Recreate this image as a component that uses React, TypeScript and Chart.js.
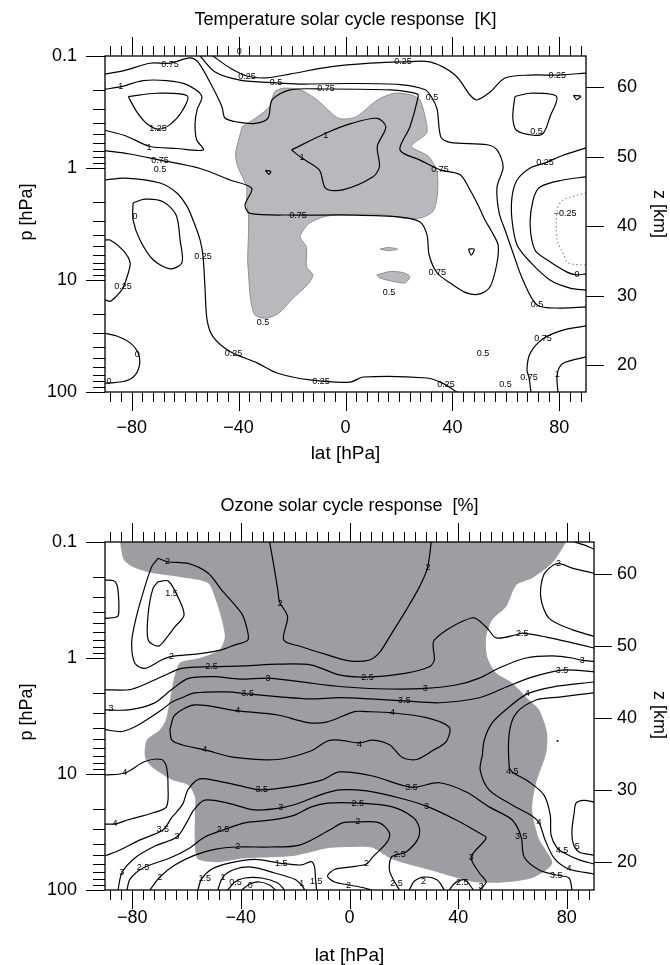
import React, { useEffect, useRef } from "react";
import { Chart, registerables } from "chart.js";

Chart.register(...registerables);

type P = [number, number];
type L = [number, number, string];

const FONT = '"Liberation Sans", Arial, Helvetica, sans-serif';

// ---------------- axes ----------------
const LAT_TICKS = [-80, -40, 0, 40, 80];
const P_TICKS = [0.1, 1, 10, 100];
const Z_TICKS = [20, 30, 40, 50, 60];
const LAT_MINOR_STEP = 4;
const SCALE_HEIGHT_KM = 7;
const P_SURFACE = 1000;

// ---------------- Temperature panel ----------------
const T_SHADE: P[] = [[-38.7,0.43],[-41.1,0.74],[-40.3,0.97],[-37.0,1.47],[-37.0,2.0],[-36.3,2.7],[-36.3,3.8],[-36.6,6.6],[-36.3,8.7],[-35.5,15],[-33.9,20.5],[-29.9,22],[-25.0,19.8],[-20.2,15],[-13.8,10.7],[-12.2,9.0],[-14.6,7.6],[-14.6,5.1],[-17.0,4.1],[-13.8,3.15],[-7.4,2.7],[2.3,2.6],[13.5,2.6],[21.5,2.8],[27.9,2.8],[32.7,2.45],[34.3,1.8],[34.3,1.1],[31.1,0.79],[24.7,0.64],[30.3,0.49],[30.3,0.4],[27.9,0.247],[24.7,0.223],[18.3,0.215],[11.9,0.247],[3.9,0.35],[-2.6,0.36],[-10.6,0.247],[-17.0,0.2],[-23.4,0.194],[-26.6,0.21],[-28.2,0.28],[-33.0,0.35],[-38.7,0.43]];
const T_BLOB_A: P[] = [[13,5.3],[16,5.12],[19.5,5.3],[16,5.48],[13,5.3]];
const T_BLOB_B: P[] = [[11.7,9.0],[16.7,8.4],[21.6,8.6],[24.1,9.3],[22.3,10.6],[17.9,10.3],[12.9,9.6],[11.7,9.0]];

const T_075: P[] = [[-90,0.70],[-80.6,0.75],[-69.4,0.85],[-54.4,1.01],[-43.2,1.28],[-35.1,1.52],[-37.6,2.14],[-35.7,2.54],[-19.5,2.63],[1.7,2.63],[20.4,2.74],[27.9,3.03],[30.5,3.96],[31.3,5.98],[34.3,8.66],[39.1,10.6],[45.5,13.1],[50.3,13.3],[54.1,11.5],[56.7,7.05],[57.1,4.87],[54.8,3.73],[52.2,2.91],[49.6,2.14],[46.6,1.57],[42.9,1.15],[35.4,1.04],[27.9,0.85],[20.4,0.69],[24.1,0.43],[27.1,0.237],[26.8,0.218],[16.7,0.201],[-7.7,0.197],[-20.8,0.201],[-27.5,0.247],[-29,0.358],[-33.9,0.40],[-40.2,0.39],[-45.1,0.358],[-46.2,0.285],[-49.6,0.193],[-55.2,0.113],[-58.2,0.104],[-65.7,0.116],[-73.2,0.116],[-83.3,0.136],[-90,0.145]];
const T_1U: P[] = [[-90,0.198],[-84.1,0.188],[-75.8,0.166],[-66.9,0.166],[-59.4,0.18],[-53.8,0.228],[-55.5,0.30],[-56.3,0.4],[-55.7,0.56],[-53.2,0.69],[-63.2,0.67],[-73.4,0.64],[-81.9,0.52],[-90,0.46]];
const T_1C: P[] = [[-20.2,0.69],[-7.4,0.49],[2.2,0.40],[11.9,0.36],[15.1,0.43],[11.9,0.64],[12.7,0.97],[10.3,1.2],[-1,1.57],[-7.4,1.52],[-9.8,1.04],[-16.2,0.82],[-20.2,0.69]];
const T_125: P[] = [[-81.3,0.23],[-70.7,0.215],[-59.2,0.227],[-61.3,0.315],[-65.7,0.41],[-70.1,0.45],[-74.4,0.40],[-78.1,0.315],[-81.3,0.23]];
const T_05: P[] = [[-54.4,0.1],[-48.8,0.139],[-39.5,0.164],[-26,0.174],[-17,0.178],[1.7,0.176],[20.4,0.18],[29.8,0.2],[32.4,0.237],[34.3,0.30],[35.7,0.53],[39.1,0.59],[53,0.62],[56.7,0.69],[59,0.98],[56.7,1.48],[57.5,2.52],[59.7,3.58],[62.7,5.74],[66.4,10],[71.7,16.7],[80.3,17.8],[90,17.4]];
const T_025U: P[] = [[-49.6,0.1],[-43.2,0.128],[-36.9,0.151],[-30.1,0.157],[-20.8,0.145],[-5.8,0.125],[9.2,0.116],[21.5,0.113],[31.6,0.113],[41,0.148],[46.6,0.223],[49.2,0.247],[54.1,0.21],[59.7,0.157],[69.1,0.148],[79.2,0.148],[90,0.142]];
const T_025L: P[] = [[-90,1.28],[-82.5,1.23],[-69.4,1.36],[-63.1,1.67],[-59.3,2.2],[-57.1,2.9],[-54.4,4.4],[-53.3,6.2],[-52.6,11.5],[-51.8,22.7],[-49.6,32],[-43.2,43.5],[-33.1,55],[-25.6,67.6],[-13.3,78],[1.7,81.7],[6.6,73.5],[30.5,75],[36.5,83.8],[41.7,100]];
const T_0LOOP: P[] = [[-79.5,2.05],[-75,1.9],[-68.3,2.0],[-63.4,2.63],[-61.9,4.4],[-61.2,7.0],[-65.7,7.95],[-72,6.6],[-76.9,4.4],[-79.5,2.9],[-79.5,2.05]];
const T_025LOOP: P[] = [[-90,4.4],[-88.1,4.4],[-83.3,5.4],[-80.6,7.0],[-81.7,9.3],[-83.6,12.1],[-86.3,14.4],[-88.1,15.5],[-90,15.0]];
const T_0BL: P[] = [[-90,30],[-85.6,31.6],[-80.6,36.4],[-77.5,45.4],[-77.2,59],[-79.4,73.5],[-83.1,80.6],[-88.1,82.8],[-90,83.5]];
const T_05LOOP_R: P[] = [[63.4,0.23],[69.1,0.215],[79.0,0.23],[76.5,0.35],[74,0.49],[70.3,0.51],[64,0.46],[62.6,0.35],[63.4,0.23]];
const T_025R: P[] = [[90,0.66],[81.4,0.77],[74.7,0.9],[69.1,1.0],[64.2,1.28],[62.3,1.82],[62.3,2.9],[64.2,4.87],[69.1,6.9],[76.5,10],[84,11.8],[90,12.3]];
const T_0R: P[] = [[90,1.2],[81.4,1.28],[72.8,1.48],[70.2,1.93],[69.1,3.23],[70.9,5.4],[75.4,6.6],[82.9,8.5],[86.6,9.0],[90,8.8]];
const T_M025R: P[] = [[90,1.67],[81.4,1.93],[79.2,2.37],[79.2,4.4],[81.4,5.74],[83.3,7.05],[90,7.35]];
const T_075BR: P[] = [[90,25.7],[81.4,28],[73.9,33.5],[69.1,45.2],[67.9,63],[68.7,75],[69.4,100]];
const T_1BR: P[] = [[90,48.5],[81.4,55.5],[79.2,70],[79.5,100]];
const T_SQ1: P[] = [[-30,1.05],[-28,1.07],[-28.6,1.14],[-30,1.05]];
const T_SQ2: P[] = [[46,5.3],[48.2,5.3],[47,6.0],[46,5.3]];
const T_SQ3: P[] = [[85.3,0.225],[88,0.228],[86.5,0.245],[85.3,0.225]];

const T_LABELS: L[] = [
  [-65.7,0.118,"0.75"],[-69.4,0.85,"0.75"],[-17.8,2.63,"0.75"],[-7.3,0.197,"0.75"],[35.4,1.04,"0.75"],[34.3,8.66,"0.75"],[73.9,33.5,"0.75"],[68.7,75,"0.75"],
  [-84.1,0.188,"1"],[-73.5,0.65,"1"],[-7.4,0.51,"1"],[-16.3,0.81,"1"],[79.2,70,"1"],
  [-70.2,0.44,"1.25"],
  [-26,0.174,"0.5"],[32.4,0.237,"0.5"],[71.7,16.7,"0.5"],[-69.4,1.04,"0.5"],[-30.9,24,"0.5"],[16.3,13,"0.5"],[51.5,45,"0.5"],[59.9,86,"0.5"],[71.5,0.475,"0.5"],
  [-36.9,0.151,"0.25"],[21.5,0.113,"0.25"],[79.2,0.148,"0.25"],[74.7,0.9,"0.25"],[-53.3,6.2,"0.25"],[-41.9,44.9,"0.25"],[-9.2,80,"0.25"],[37.6,86.5,"0.25"],[-83.3,11.5,"0.25"],
  [-39.8,0.092,"0"],[-78.8,2.7,"0"],[-77.9,46.6,"0"],[-88.5,81,"0"],[86.6,9.0,"0"],
  [82.2,2.57,"−0.25"],
];

// ---------------- Ozone panel ----------------
const O_SHADE: P[] = [[-85,0.085],[-84.5,0.1],[-83.0,0.143],[-79.0,0.167],[-72.7,0.185],[-62.4,0.2],[-52.2,0.225],[-49.2,0.316],[-47.0,0.47],[-45.9,0.66],[-47.8,0.85],[-55.1,1.0],[-62.4,1.10],[-64.7,1.54],[-66.1,2.3],[-67.6,3.4],[-69.8,4.15],[-74.6,5.1],[-75.3,7.1],[-72.7,8.7],[-65.4,11.2],[-59.5,12.4],[-56.9,15.8],[-56.9,21.6],[-56.9,42.5],[-55.8,54.4],[-48.5,57.6],[-38.6,53.3],[-20.2,50.6],[-7.3,43.3],[1.8,42.5],[8.5,43.3],[15.8,54.4],[33.1,70.9],[45.2,84.7],[55.1,86.4],[67.2,78.8],[74.6,58.8],[69.8,36.6],[67.2,20.2],[68.7,11.9],[72.4,6.6],[72.7,4.4],[69.8,2.8],[66.1,2.3],[59.9,1.64],[54.0,1.35],[50.7,0.98],[50.3,0.66],[52.5,0.47],[57.7,0.36],[61.4,0.235],[67.2,0.205],[74.6,0.152],[79.7,0.1],[80.5,0.085],[0,0.085],[-85,0.085]];
const O_2U: P[] = [[-29.4,0.1],[-27.9,0.158],[-26.4,0.259],[-25.7,0.33],[-22.8,0.44],[-24.2,0.70],[-17.6,0.80],[-8.1,0.94],[0,1.06],[7.4,1.04],[11,0.90],[14.7,0.66],[20.9,0.385],[25.7,0.245],[28.7,0.167],[30.1,0.1]];
const O_2LOOP: P[] = [[-70.4,0.138],[-67,0.148],[-59.4,0.153],[-52,0.186],[-47.1,0.259],[-39.8,0.41],[-37.9,0.54],[-37.4,0.70],[-42.2,0.77],[-47.1,0.85],[-55.7,0.92],[-65.5,0.97],[-69.2,1.04],[-75.3,1.23],[-79,1.11],[-80.2,0.75],[-79,0.50],[-76.5,0.30],[-72.8,0.163],[-70.4,0.138]];
const O_15LOOP: P[] = [[-70.4,0.22],[-66.7,0.217],[-63.1,0.30],[-60.9,0.427],[-64.3,0.54],[-68,0.70],[-70.4,0.79],[-74.1,0.70],[-74.1,0.414],[-72.3,0.25],[-70.4,0.22]];
const O_LEDGE: P[] = [[-90,0.213],[-87,0.215],[-85.6,0.235],[-85,0.30],[-85,0.42],[-86,0.445],[-90,0.455]];
const O_2R: P[] = [[90,0.186],[82,0.168],[76.5,0.153],[71.6,0.19],[70.4,0.30],[73.5,0.455],[82,0.57],[90,0.65]];
const O_CORNER: P[] = [[82.7,0.1],[86.3,0.106],[90,0.115]];
const O_25: P[] = [[-90,1.88],[-80.2,1.86],[-69.2,1.45],[-61.8,1.23],[-50.8,1.19],[-38.6,1.17],[-26.4,1.13],[-14,1.15],[-3.7,1.40],[6.6,1.46],[20.9,1.35],[29.4,1.19],[31.2,1.04],[31.2,0.70],[45.2,0.45],[50.3,0.54],[54.0,0.67],[61.4,0.63],[63.6,0.61],[72.4,0.66],[82,0.74],[90,0.82]];
const O_3: P[] = [[-90,2.8],[-81.3,2.8],[-71.9,2.45],[-65.6,1.88],[-59.3,1.5],[-49.8,1.45],[-40.4,1.52],[-30,1.49],[-18.4,1.6],[-2.6,1.77],[14.7,1.85],[27.9,1.83],[39.2,1.71],[47.8,1.49],[55.1,1.22],[64.9,1.0],[74.7,0.96],[82,1.0],[85.7,1.05],[90,1.07]];
const O_35: P[] = [[-90,4.15],[-83.8,4.3],[-77.9,3.8],[-69.1,2.8],[-65.4,2.4],[-61.7,2.2],[-56.9,2.0],[-44.8,1.96],[-37.5,2.04],[-25.7,2.16],[-14.7,2.25],[-3.7,2.2],[7.4,2.25],[20.2,2.34],[33.1,2.43],[47.8,2.2],[57.7,1.78],[67.2,1.46],[78.2,1.27],[90,1.31]];
const O_4U: P[] = [[-66.1,4.15],[-64.3,3.1],[-56.9,2.54],[-41.1,2.86],[-26.4,3.1],[-15.4,3.6],[-8.1,3.55],[1.8,2.9],[6.2,2.9],[15.8,2.97],[28.3,3.27],[36.7,3.95],[35.6,5.25],[30.5,6.3],[24.6,7.5],[19.5,7.2],[14.7,5.6],[8.5,5.1],[3.7,5.4],[-3.7,5.1],[-8.1,5.2],[-14,6.3],[-26.4,7.5],[-42.2,7.2],[-53.3,6.2],[-61.7,5.6],[-65.4,5.1],[-66.1,4.15]];
const O_4BULGE: P[] = [[-90,10.2],[-82.7,9.8],[-75.3,7.8],[-69.2,7.5],[-67.4,8.6],[-66.8,12.9],[-67.4,19.2],[-72.8,21.8],[-81.4,24.8],[-86.3,26.9],[-90,27.1]];
const O_35M: P[] = [[81.9,100],[80.8,78.8],[76.1,74.3],[69.8,67.3],[64.3,52],[63.2,34.9],[59.9,24.9],[51.4,19.2],[43,14.3],[33.1,11.9],[22.8,13],[8.5,10.4],[-3.7,9.6],[-10.3,11.3],[-20.2,12.7],[-32.3,13.7],[-38.6,12.9],[-47,11.7],[-55.1,11],[-59.5,13.7],[-61.4,18.2],[-65.4,23.7],[-68.7,30.4],[-77.1,37],[-84.5,45.2],[-90,50.9]];
const O_3M: P[] = [[47.8,100],[50.3,85.3],[47.8,71.3],[44.8,52],[50.3,35.6],[47.8,32.3],[39.3,24.9],[28.3,18.9],[18.4,16.1],[6.3,14],[-3.7,13.7],[-11,15.2],[-18.4,17.8],[-25.3,19.6],[-34.9,20.4],[-44.8,17.8],[-53.3,16.8],[-57.3,20.4],[-60,26.4],[-63.5,34.9],[-71.6,41.8],[-79,53],[-83.8,71.3],[-85.2,100]];
const O_25M: P[] = [[18.4,100],[16.2,82],[14.7,67.3],[15.4,52],[18.4,49],[20.9,47],[25,37],[25.7,29.2],[23.2,23.5],[15.8,19.2],[3,17.8],[-8.1,17.8],[-14,19.2],[-20.2,22.6],[-28.6,24.9],[-38.6,26.4],[-46.6,30.4],[-53.3,34.9],[-58.8,43.4],[-66.1,53],[-76,64.6],[-80.8,80.7],[-81.9,100]];
const O_2M: P[] = [[-73.5,100],[-69.8,77.3],[-64.3,60.8],[-56.9,50],[-49.6,44.6],[-41.1,42.6],[-29.4,42.6],[-18.4,41],[-7.3,30.4],[-2.6,26.4],[3,25.9],[11,26.4],[14.7,32.3],[13.6,39.3],[8.5,52],[6.3,59.7],[0,63.4],[-5.5,66.6],[-8.1,75.7],[-5.5,85.3],[0,90.6],[5.5,96.1],[8.1,100]];
const O_15A: P[] = [[-55.8,100],[-54.5,80.7],[-50.8,66.3],[-44.7,58.9],[-34.9,54.4],[-25.1,58.9],[-17.7,60.8],[-14.1,57],[-12.9,63],[-12.5,80.7],[-12.1,100]];
const O_1A: P[] = [[-48.5,100],[-46.6,77.3],[-42.2,66.3],[-36,63.4],[-27.5,71.3],[-20.2,80.7],[-17.6,90.6],[-16.5,100]];
const O_05A: P[] = [[-44.8,100],[-42.2,85.3],[-38.6,78.8],[-32.3,78.8],[-26.4,87.1],[-23.9,100]];
const O_0A: P[] = [[-39.7,100],[-36.7,88.8],[-33.1,85.3],[-29.4,90.6],[-27.2,100]];
const O_2AR: P[] = [[22,100],[23.9,83.6],[27.6,77.3],[32.3,82],[34.9,100]];
const O_25AR: P[] = [[36.7,100],[38.9,86.8],[42.6,82],[45.6,100]];
const O_4R: P[] = [[90,1.61],[74.6,1.78],[65.4,2.04],[58.8,2.64],[52.5,3.63],[49.6,5.1],[48.9,6.86],[48.1,9.2],[51.4,13.7],[59.9,18.5],[67.2,23],[69.8,26.4],[72,37],[75.3,53],[80.8,65.9],[90,72.8]];
const O_45R: P[] = [[90,2.0],[77.2,2.17],[68.7,2.3],[61.4,2.98],[58.8,4.43],[58.8,8.7],[59.9,9.6],[66.1,11.7],[71.6,15.2],[73.9,22.6],[74.2,33.6],[76.4,43.4],[79,48],[84.5,55],[90,59.7]];
const O_5R: P[] = [[90,17.4],[86.3,16.9],[83.4,17.8],[82.7,21.7],[81.9,30.4],[82.3,39.3],[84.5,47],[90,50]];
const O_DOTS: P[] = [[76.6,5.2]];

const O_LABELS: L[] = [
  [-67,0.148,"2"],[-65.5,0.97,"2"],[-25.5,0.336,"2"],[28.9,0.166,"2"],[76.9,0.153,"2"],[-69.8,77.3,"2"],[-41.1,42.6,"2"],[3,25.9,"2"],[6.3,59.7,"2"],[-0.4,92,"2"],[27.2,84.6,"2"],
  [-65.5,0.28,"1.5"],[-25.1,59,"1.5"],[-12.2,84.6,"1.5"],[-53.3,79.5,"1.5"],
  [-50.8,1.19,"2.5"],[6.6,1.46,"2.5"],[63.6,0.61,"2.5"],[18.4,49,"2.5"],[3,17.8,"2.5"],[-46.6,30.4,"2.5"],[-76,64.6,"2.5"],[17.3,88,"2.5"],[41.5,86.8,"2.5"],
  [-87.8,2.7,"3"],[-30,1.49,"3"],[27.9,1.83,"3"],[85.7,1.05,"3"],[44.8,52,"3"],[28.3,18.9,"3"],[-25.3,19.6,"3"],[-63.5,34.9,"3"],[-83.8,71.3,"3"],[48.5,92.4,"3"],
  [-37.5,2.04,"3.5"],[20.2,2.34,"3.5"],[78.2,1.27,"3.5"],[76.1,74.3,"3.5"],[63.2,34.9,"3.5"],[22.8,13,"3.5"],[-32.3,13.7,"3.5"],[-68.7,30.4,"3.5"],
  [-41.1,2.86,"4"],[15.8,2.97,"4"],[-53.3,6.2,"4"],[3.7,5.6,"4"],[-82.7,9.8,"4"],[-86.3,26.9,"4"],[65.4,2.04,"4"],[69.8,26.4,"4"],[80.8,65.9,"4"],
  [59.9,9.6,"4.5"],[78.2,45.3,"4.5"],
  [83.8,41.9,"5"],
  [-46.6,77.3,"1"],[-17.6,87.2,"1"],
  [-42,86,"0.5"],
  [-36.5,90.6,"0"],
];

// ---------------- panel specs (layout / style) ----------------
interface PanelSpec {
  title: string;
  height: number;
  plotTop: number;
  plotBottom: number;
  plotLeft: number;
  plotRight: number;
  xPad: number;
  yPad: number;
  zPad: number;
  titleBase: number;
  latBase: number;
  pLabelY: number;
  zLabelY: number;
  shadeFill: string;
  shadeEdge: string;
  shadeEdgeWidth: number;
  shades: P[][];
  lines: P[][];
  dotted: P[][];
  dots: P[];
  labels: L[];
}

const TOP_SPEC: PanelSpec = {
  title: "Temperature solar cycle response  [K]",
  height: 480, plotTop: 56, plotBottom: 392, plotLeft: 105, plotRight: 586,
  xPad: 25, yPad: 28, zPad: 31,
  titleBase: 25, latBase: 459, pLabelY: 212, zLabelY: 214,
  shadeFill: "#b8b9bd", shadeEdge: "#8e8f93", shadeEdgeWidth: 1,
  shades: [T_SHADE, T_BLOB_A, T_BLOB_B],
  lines: [T_075, T_1U, T_1C, T_125, T_05, T_025U, T_025L, T_0LOOP, T_025LOOP, T_0BL, T_05LOOP_R, T_025R, T_0R, T_075BR, T_1BR, T_SQ1, T_SQ2, T_SQ3],
  dotted: [T_M025R],
  dots: [],
  labels: T_LABELS,
};

const BOTTOM_SPEC: PanelSpec = {
  title: "Ozone solar cycle response  [%]",
  height: 485, plotTop: 62, plotBottom: 410, plotLeft: 105, plotRight: 594,
  xPad: 17, yPad: 28, zPad: 23,
  titleBase: 31, latBase: 481, pLabelY: 232, zLabelY: 235,
  shadeFill: "#9d9ea2", shadeEdge: "#9d9ea2", shadeEdgeWidth: 0,
  shades: [O_SHADE],
  lines: [O_2U, O_2LOOP, O_15LOOP, O_LEDGE, O_2R, O_CORNER, O_25, O_3, O_35, O_4U, O_4BULGE, O_35M, O_3M, O_25M, O_2M, O_15A, O_1A, O_05A, O_0A, O_2AR, O_25AR, O_4R, O_45R, O_5R],
  dotted: [],
  dots: O_DOTS,
  labels: O_LABELS,
};

function decorPlugin(spec: PanelSpec) {
  return {
    id: "panelDecor",
    afterDraw(chart: any) {
      const ctx = chart.ctx as CanvasRenderingContext2D;
      const { left, right, top, bottom } = chart.chartArea;
      const xs = chart.scales.x, ys = chart.scales.y, zs = chart.scales.z;
      ctx.save();
      // contour labels
      ctx.fillStyle = "#000";
      ctx.font = `9px ${FONT}`;
      ctx.textAlign = "center";
      ctx.textBaseline = "middle";
      for (const [lat, p, t] of spec.labels) {
        ctx.fillText(t, xs.getPixelForValue(lat), ys.getPixelForValue(p));
      }
      // frame
      ctx.strokeStyle = "#000";
      ctx.lineWidth = 1.3;
      ctx.strokeRect(left, top, right - left, bottom - top);
      // ticks
      ctx.lineWidth = 1;
      ctx.beginPath();
      for (let lat = -88; lat <= 88; lat += LAT_MINOR_STEP) {
        const px = Math.round(xs.getPixelForValue(lat)) + 0.5;
        const len = LAT_TICKS.indexOf(lat) >= 0 ? 19 : 10;
        ctx.moveTo(px, bottom); ctx.lineTo(px, bottom + len);
        ctx.moveTo(px, top); ctx.lineTo(px, top - len);
      }
      for (const dec of [0.1, 1, 10]) {
        for (let m = 1; m <= 9; m++) {
          const v = m * dec;
          const py = Math.round(ys.getPixelForValue(v)) + 0.5;
          const len = m === 1 ? 19 : 12;
          ctx.moveTo(left, py); ctx.lineTo(left - len, py);
        }
      }
      {
        const py = Math.round(ys.getPixelForValue(100)) + 0.5;
        ctx.moveTo(left, py); ctx.lineTo(left - 19, py);
      }
      for (const z of Z_TICKS) {
        const py = Math.round(zs.getPixelForValue(z)) + 0.5;
        ctx.moveTo(right, py); ctx.lineTo(right + 18, py);
      }
      ctx.stroke();
      // titles
      ctx.fillStyle = "#000";
      ctx.textBaseline = "alphabetic";
      ctx.textAlign = "center";
      ctx.font = `18px ${FONT}`;
      ctx.fillText(spec.title, (left + right) / 2, spec.titleBase);
      ctx.font = `19px ${FONT}`;
      ctx.fillText("lat [hPa]", (left + right) / 2, spec.latBase);
      ctx.font = `18px ${FONT}`;
      ctx.textBaseline = "middle";
      ctx.save();
      ctx.translate(27, spec.pLabelY);
      ctx.rotate(-Math.PI / 2);
      ctx.fillText("p [hPa]", 0, 0);
      ctx.restore();
      ctx.save();
      ctx.translate(659, spec.zLabelY);
      ctx.rotate(Math.PI / 2);
      ctx.fillText("z [km]", 0, 0);
      ctx.restore();
      ctx.restore();
    },
  };
}

function makeChart(canvas: HTMLCanvasElement, spec: PanelSpec) {
  const toXY = (pts: P[]) => pts.map(([x, y]) => ({ x, y }));
  const datasets: any[] = [];
  for (const s of spec.shades) {
    datasets.push({
      data: toXY(s), fill: "shape", backgroundColor: spec.shadeFill,
      borderColor: spec.shadeEdge, borderWidth: spec.shadeEdgeWidth,
      pointRadius: 0, tension: 0.25, order: 10,
    });
  }
  for (const l of spec.lines) {
    datasets.push({
      data: toXY(l), fill: false, borderColor: "#000", borderWidth: 1.2,
      pointRadius: 0, tension: 0.3, order: 1,
    });
  }
  for (const l of spec.dotted) {
    datasets.push({
      data: toXY(l), fill: false, borderColor: "#8a8a8a", borderWidth: 1.1,
      borderDash: [1.5, 2.5], pointRadius: 0, tension: 0.3, order: 1,
    });
  }
  for (const d of spec.dots) {
    datasets.push({
      data: toXY([d]), showLine: false, pointRadius: 1, pointBackgroundColor: "#000",
      pointBorderWidth: 0, order: 0,
    });
  }
  const tickFont = { size: 18, family: FONT };
  const zMin = SCALE_HEIGHT_KM * Math.log(P_SURFACE / 100);
  const zMax = SCALE_HEIGHT_KM * Math.log(P_SURFACE / 0.1);
  return new Chart(canvas, {
    type: "line",
    data: { datasets },
    options: {
      animation: false,
      responsive: false,
      events: [],
      layout: { autoPadding: false, padding: { top: spec.plotTop, left: 0, right: 0, bottom: 0 } },
      plugins: { legend: { display: false }, tooltip: { enabled: false }, title: { display: false } },
      scales: {
        x: {
          type: "linear", position: "bottom", min: -90, max: 90,
          grid: { display: false, drawTicks: false }, border: { display: false },
          ticks: {
            color: "#000", font: tickFont, padding: spec.xPad, maxRotation: 0, autoSkip: false,
            callback: (v: any) => (v < 0 ? "\u2212" + Math.abs(v) : String(v)),
          },
          afterBuildTicks: (s: any) => { s.ticks = LAT_TICKS.map((value) => ({ value })); },
          afterFit: (s: any) => { s.height = spec.height - spec.plotBottom; },
        },
        y: {
          type: "logarithmic", position: "left", reverse: true, min: 0.1, max: 100,
          grid: { display: false, drawTicks: false }, border: { display: false },
          ticks: { color: "#000", font: tickFont, padding: spec.yPad, autoSkip: false, callback: (v: any) => String(v) },
          afterBuildTicks: (s: any) => { s.ticks = P_TICKS.map((value) => ({ value })); },
          afterFit: (s: any) => { s.width = spec.plotLeft; },
        },
        z: {
          type: "linear", axis: "y", position: "right", min: zMin, max: zMax,
          grid: { display: false, drawTicks: false }, border: { display: false },
          ticks: { color: "#000", font: tickFont, padding: spec.zPad, autoSkip: false },
          afterBuildTicks: (s: any) => { s.ticks = Z_TICKS.map((value) => ({ value })); },
          afterFit: (s: any) => { s.width = 670 - spec.plotRight; },
        },
      },
    } as any,
    plugins: [decorPlugin(spec)],
  });
}

export default function App() {
  const r1 = useRef<HTMLCanvasElement>(null);
  const r2 = useRef<HTMLCanvasElement>(null);
  useEffect(() => {
    Chart.defaults.font.family = FONT;
    const c1 = makeChart(r1.current!, TOP_SPEC);
    const c2 = makeChart(r2.current!, BOTTOM_SPEC);
    return () => { c1.destroy(); c2.destroy(); };
  }, []);
  return (
    <div style={{ position: "absolute", left: 0, top: 0, width: 670, height: 965, background: "#fff" }}>
      <canvas ref={r1} width={670} height={480} style={{ display: "block" }} />
      <canvas ref={r2} width={670} height={485} style={{ display: "block" }} />
    </div>
  );
}
